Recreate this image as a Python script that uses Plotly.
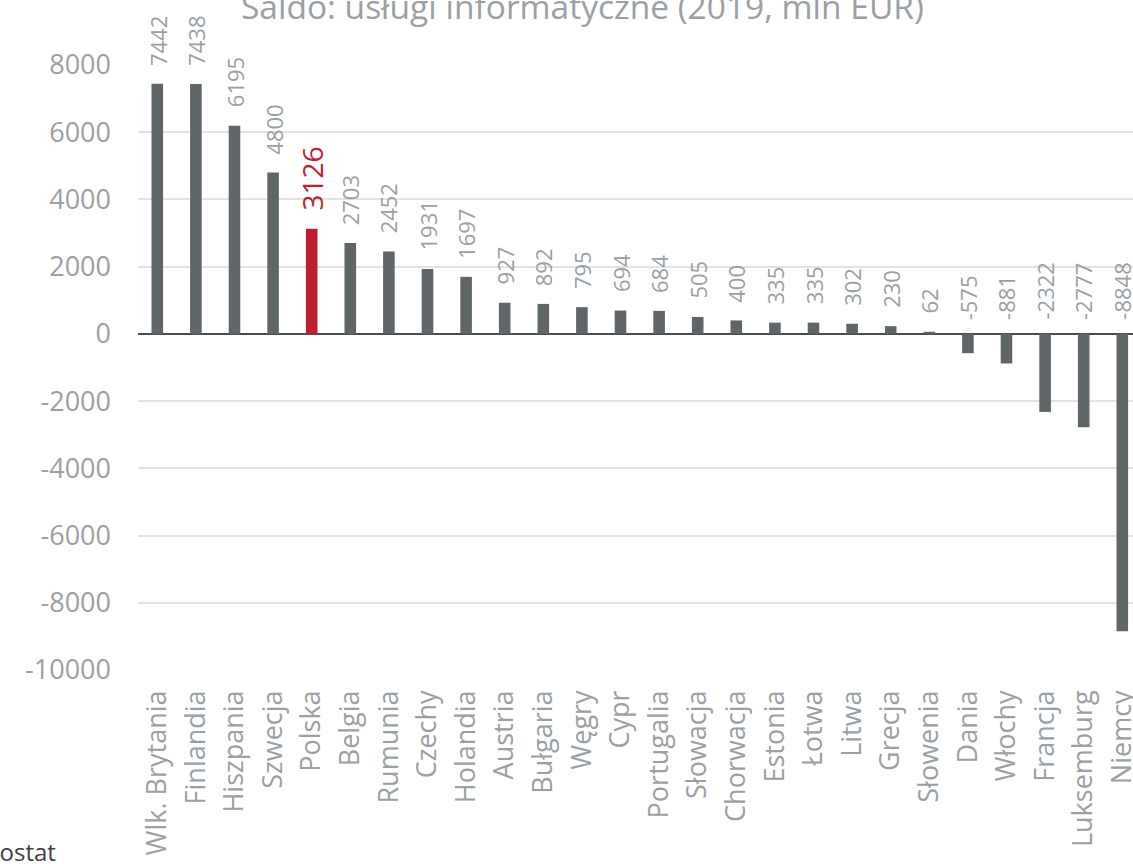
import plotly.graph_objects as go

# Saldo usług informatycznych, 2019, mln EUR
countries = [
    "Wlk. Brytania", "Finlandia", "Hiszpania", "Szwecja", "Polska", "Belgia",
    "Rumunia", "Czechy", "Holandia", "Austria", "Bułgaria", "Węgry", "Cypr",
    "Portugalia", "Słowacja", "Chorwacja", "Estonia", "Łotwa", "Litwa",
    "Grecja", "Słowenia", "Dania", "Włochy", "Francja", "Luksemburg", "Niemcy",
]
balance = [
    7442, 7438, 6195, 4800, 3126, 2703, 2452, 1931, 1697, 927, 892, 795, 694,
    684, 505, 400, 335, 335, 302, 230, 62, -575, -881, -2322, -2777, -8848,
]
highlight = "Polska"
y_ticks = [8000, 6000, 4000, 2000, 0, -2000, -4000, -6000, -8000, -10000]

GREY_BAR = "#606568"
RED = "#BE1E2D"
TEXT = "#9AA0A3"
FONT = "Open Sans"

W, H = 1133, 864
L, R, T, B = 138, 0, 65, 194
cat_px = 38.6
plot_w = W - L - R
plot_h = H - T - B


def px_x(px):
    """Page pixel column -> paper x (paper spans the plot area)."""
    return (px - L) / plot_w


def px_y(px):
    """Page pixel row -> paper y."""
    return (H - B - px) / plot_h


x_idx = list(range(len(countries)))
colors = [RED if c == highlight else GREY_BAR for c in countries]

fig = go.Figure(
    go.Bar(
        x=x_idx,
        y=balance,
        marker=dict(color=colors, line=dict(width=0)),
        width=0.3,
        hoverinfo="skip",
    )
)

# rotated value labels above the bar (or above the zero line for negatives)
for i, (c, v) in enumerate(zip(countries, balance)):
    is_hl = c == highlight
    fig.add_annotation(
        x=i,
        y=max(v, 0),
        xref="x",
        yref="y",
        text=str(v),
        textangle=-90,
        showarrow=False,
        xanchor="center",
        yanchor="bottom",
        yshift=16 if v >= 0 else 12,
        font=dict(family=FONT, size=28 if is_hl else 22, color=RED if is_hl else TEXT),
    )

# chart title
fig.add_annotation(
    x=px_x(582),
    y=px_y(6),
    xref="paper",
    yref="paper",
    text="Saldo: usługi informatyczne (2019, mln EUR)",
    showarrow=False,
    xanchor="center",
    yanchor="middle",
    font=dict(family=FONT, size=33.5, color=TEXT),
)

# source note
fig.add_annotation(
    x=px_x(58),
    y=px_y(851),
    xref="paper",
    yref="paper",
    text="Źródło: Eurostat",
    showarrow=False,
    xanchor="right",
    yanchor="middle",
    font=dict(family=FONT, size=24, color="#404040"),
)

fig.update_layout(
    width=W,
    height=H,
    margin=dict(l=L, r=R, t=T, b=B, autoexpand=False),
    paper_bgcolor="white",
    plot_bgcolor="white",
    showlegend=False,
    bargap=0.7,
    font=dict(family=FONT, color=TEXT),
)

fig.update_xaxes(
    range=[-0.5, -0.5 + plot_w / cat_px],
    tickmode="array",
    tickvals=x_idx,
    ticktext=countries,
    tickangle=-90,
    tickfont=dict(family=FONT, size=27, color=TEXT),
    ticks="",
    ticklabelstandoff=14,
    ticklabeloverflow="allow",
    showgrid=False,
    showline=False,
    zeroline=False,
    automargin=False,
    fixedrange=True,
)

fig.update_yaxes(
    range=[-10000, 8000],
    tickmode="array",
    tickvals=y_ticks,
    ticktext=[str(t) for t in y_ticks],
    tickfont=dict(family=FONT, size=27, color=TEXT),
    ticks="",
    ticklabelstandoff=26,
    showgrid=True,
    gridcolor="#E3E3E3",
    gridwidth=1.5,
    zeroline=True,
    zerolinecolor="#4A4D50",
    zerolinewidth=2,
    showline=False,
    automargin=False,
    fixedrange=True,
)

fig.write_html("out.html", config={"displayModeBar": False})
